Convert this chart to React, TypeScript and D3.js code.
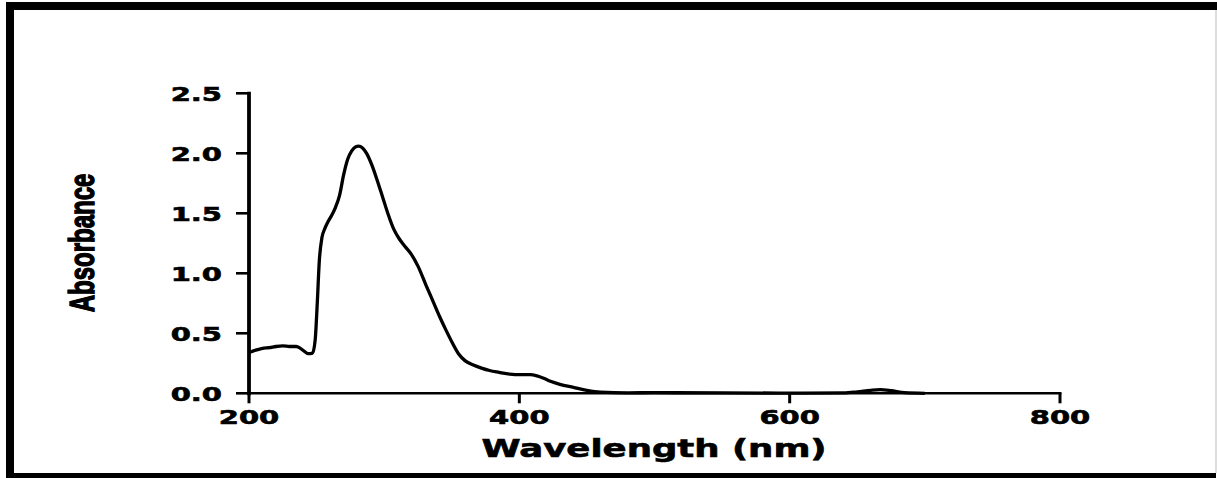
import React from "react";
import * as d3 from "d3";

const wavelength = [200, 205, 210, 215, 220, 225, 230, 235, 238, 241, 244, 247, 249, 250.5, 252, 254, 256, 258, 261, 264, 267, 270, 273, 276, 279, 281, 284, 287, 291, 295, 299, 303, 307, 311, 315, 320, 325, 331, 336, 341, 346, 350, 355, 360, 366, 372, 378, 385, 393, 400, 408, 413, 418, 423, 430, 440, 450, 460, 480, 500, 550, 600, 640, 650, 660, 667, 675, 685, 700];
const absorbance = [0.34, 0.36, 0.375, 0.38, 0.39, 0.395, 0.39, 0.39, 0.375, 0.35, 0.33, 0.335, 0.45, 0.75, 1.1, 1.3, 1.37, 1.42, 1.48, 1.55, 1.65, 1.82, 1.95, 2.02, 2.055, 2.06, 2.045, 2.0, 1.9, 1.77, 1.63, 1.49, 1.37, 1.29, 1.23, 1.16, 1.06, 0.9, 0.77, 0.64, 0.52, 0.43, 0.33, 0.27, 0.235, 0.21, 0.19, 0.175, 0.16, 0.155, 0.155, 0.145, 0.125, 0.1, 0.075, 0.05, 0.025, 0.01, 0.004, 0.005, 0.003, 0.002, 0.003, 0.012, 0.025, 0.03, 0.022, 0.005, 0.0];
const xTicks = [200, 400, 600, 800];
const yTicks = [0, 0.5, 1.0, 1.5, 2.0, 2.5];
const xTitle = "Wavelength (nm)";
const yTitle = "Absorbance";

const W = 1217;
const H = 478;
const SX = 1.45;

export default function App() {
  const x = d3.scaleLinear().domain([200, 800]).range([249, 1060]);
  const y = d3.scaleLinear().domain([0, 2.5]).range([393.3, 93.3]);
  const pts: [number, number][] = wavelength.map((w, i) => [w, absorbance[i]]);
  const line = d3
    .line<[number, number]>()
    .x((d) => x(d[0]))
    .y((d) => y(d[1]))
    .curve(d3.curveMonotoneX);
  const tickFont = {
    fontFamily: "DejaVu Sans",
    fontWeight: 700,
    fontSize: 20,
    stroke: "#000",
    strokeWidth: 0.6,
    fill: "#000",
  } as const;

  return (
    <div style={{ position: "absolute", left: 0, top: 0 }}>
      <svg width={W} height={H} style={{ display: "block", background: "#fff" }}>
        {/* frame */}
        <rect x={6} y={2} width={W - 6} height={8} fill="#000" />
        <rect x={6} y={2} width={8} height={H - 2} fill="#000" />
        <rect x={6} y={473} width={W - 7} height={5} fill="#000" />
        <line x1={1216} y1={10} x2={1216} y2={473} stroke="#bbb" strokeWidth={1} />

        {/* y axis */}
        <line x1={x(200)} y1={y(0) + 2} x2={x(200)} y2={y(2.5) - 1.5} stroke="#000" strokeWidth={3.8} />
        {yTicks.map((t) => (
          <g key={"y" + t}>
            <line x1={x(200) - 13} x2={x(200)} y1={y(t)} y2={y(t)} stroke="#000" strokeWidth={2.6} />
            <g transform={`translate(222, ${y(t) + 7.5}) scale(${SX},1)`}>
              <text textAnchor="end" {...tickFont}>
                {t.toFixed(1)}
              </text>
            </g>
          </g>
        ))}

        {/* x axis */}
        <line x1={x(200)} y1={y(0)} x2={x(800) + 1.5} y2={y(0)} stroke="#000" strokeWidth={2.6} />
        {xTicks.map((t) => (
          <g key={"x" + t}>
            <line x1={x(t)} x2={x(t)} y1={y(0)} y2={y(0) + 10} stroke="#000" strokeWidth={3} />
            <g transform={`translate(${x(t)}, 424) scale(${SX},1)`}>
              <text textAnchor="middle" {...tickFont}>
                {t}
              </text>
            </g>
          </g>
        ))}

        {/* titles */}
        <g transform={`translate(654, 457) scale(1.42,1)`}>
          <text
            textAnchor="middle"
            fontFamily="DejaVu Sans"
            fontWeight={700}
            fontSize={25}
            fill="#000"
            stroke="#000"
            strokeWidth={0.6}
          >
            {xTitle}
          </text>
        </g>
        <g transform={`translate(94, 243) scale(${SX},1) rotate(-90)`}>
          <text
            textAnchor="middle"
            fontFamily="Liberation Sans"
            fontWeight={700}
            fontSize={24}
            fill="#000"
            stroke="#000"
            strokeWidth={1}
          >
            {yTitle}
          </text>
        </g>

        {/* spectrum */}
        <path d={line(pts) ?? ""} fill="none" stroke="#000" strokeWidth={3.3} strokeLinejoin="round" />
      </svg>
    </div>
  );
}
